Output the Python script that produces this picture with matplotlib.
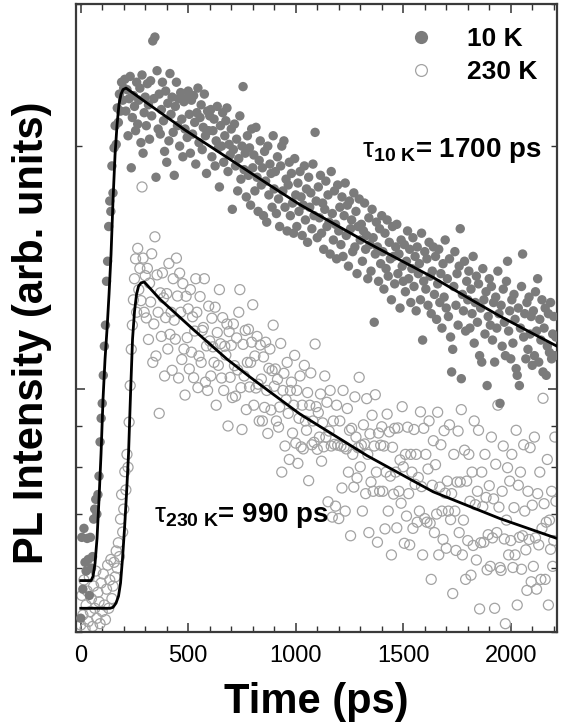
import matplotlib
matplotlib.use("Agg")
import matplotlib.pyplot as plt
from matplotlib.ticker import LogLocator, NullFormatter, MultipleLocator
from matplotlib.lines import Line2D

# ---------------- data ----------------
time_ps = [
    0, 5, 10, 15, 20, 25, 30, 35, 40, 45, 50, 55, 60, 65, 70, 75, 80, 85, 90, 95,
    100, 105, 110, 115, 120, 125, 130, 135, 140, 145, 150, 155, 160, 165, 170, 175, 180, 185, 190, 195,
    200, 205, 210, 215, 220, 225, 230, 235, 240, 245, 250, 255, 260, 265, 270, 275, 280, 285, 290, 295,
    300, 305, 310, 315, 320, 325, 330, 335, 340, 345, 350, 355, 360, 365, 370, 375, 380, 385, 390, 395,
    400, 405, 410, 415, 420, 425, 430, 435, 440, 445, 450, 455, 460, 465, 470, 475, 480, 485, 490, 495,
    500, 505, 510, 515, 520, 525, 530, 535, 540, 545, 550, 555, 560, 565, 570, 575, 580, 585, 590, 595,
    600, 605, 610, 615, 620, 625, 630, 635, 640, 645, 650, 655, 660, 665, 670, 675, 680, 685, 690, 695,
    700, 705, 710, 715, 720, 725, 730, 735, 740, 745, 750, 755, 760, 765, 770, 775, 780, 785, 790, 795,
    800, 805, 810, 815, 820, 825, 830, 835, 840, 845, 850, 855, 860, 865, 870, 875, 880, 885, 890, 895,
    900, 905, 910, 915, 920, 925, 930, 935, 940, 945, 950, 955, 960, 965, 970, 975, 980, 985, 990, 995,
    1000, 1005, 1010, 1015, 1020, 1025, 1030, 1035, 1040, 1045, 1050, 1055, 1060, 1065, 1070, 1075, 1080, 1085, 1090, 1095,
    1100, 1105, 1110, 1115, 1120, 1125, 1130, 1135, 1140, 1145, 1150, 1155, 1160, 1165, 1170, 1175, 1180, 1185, 1190, 1195,
    1200, 1205, 1210, 1215, 1220, 1225, 1230, 1235, 1240, 1245, 1250, 1255, 1260, 1265, 1270, 1275, 1280, 1285, 1290, 1295,
    1300, 1305, 1310, 1315, 1320, 1325, 1330, 1335, 1340, 1345, 1350, 1355, 1360, 1365, 1370, 1375, 1380, 1385, 1390, 1395,
    1400, 1405, 1410, 1415, 1420, 1425, 1430, 1435, 1440, 1445, 1450, 1455, 1460, 1465, 1470, 1475, 1480, 1485, 1490, 1495,
    1500, 1505, 1510, 1515, 1520, 1525, 1530, 1535, 1540, 1545, 1550, 1555, 1560, 1565, 1570, 1575, 1580, 1585, 1590, 1595,
    1600, 1605, 1610, 1615, 1620, 1625, 1630, 1635, 1640, 1645, 1650, 1655, 1660, 1665, 1670, 1675, 1680, 1685, 1690, 1695,
    1700, 1705, 1710, 1715, 1720, 1725, 1730, 1735, 1740, 1745, 1750, 1755, 1760, 1765, 1770, 1775, 1780, 1785, 1790, 1795,
    1800, 1805, 1810, 1815, 1820, 1825, 1830, 1835, 1840, 1845, 1850, 1855, 1860, 1865, 1870, 1875, 1880, 1885, 1890, 1895,
    1900, 1905, 1910, 1915, 1920, 1925, 1930, 1935, 1940, 1945, 1950, 1955, 1960, 1965, 1970, 1975, 1980, 1985, 1990, 1995,
    2000, 2005, 2010, 2015, 2020, 2025, 2030, 2035, 2040, 2045, 2050, 2055, 2060, 2065, 2070, 2075, 2080, 2085, 2090, 2095,
    2100, 2105, 2110, 2115, 2120, 2125, 2130, 2135, 2140, 2145, 2150, 2155, 2160, 2165, 2170, 2175, 2180, 2185, 2190, 2195,
    2200, 2205, 2210,
]

pl_10K = [
    5.20, 6.55, 5.65, 6.72, 6.10, 5.95, 6.53, 6.15, 5.55, 6.55, 6.00, 6.20, 6.9, 7.1, 7.3, 7.0, 7.4, 7.8, 8.6, 9.2,
    9.6, 10.4, 11.3, 12.0, 13.6, 14.4, 15.9, 17.1, 16.6, 18.9, 17.5, 19.9, 21.2, 20.1, 22.3, 21.4, 23.2, 22.1, 24.0, 22.8,
    23.6, 24.2, 22.1, 23.5, 20.6, 22.9, 24.4, 18.8, 21.7, 23.1, 22.4, 20.9, 24.0, 21.3, 22.8, 23.6, 20.2, 24.5, 19.6, 22.0,
    23.0, 21.2, 23.9, 22.5, 20.4, 24.1, 21.8, 27.0, 22.9, 27.3, 18.3, 24.8, 21.0, 23.2, 20.7, 22.2, 24.0, 21.5, 19.7, 23.4,
    19.1, 22.6, 20.3, 24.6, 21.9, 23.0, 20.8, 18.4, 22.4, 24.0, 21.2, 22.9, 20.0, 23.3, 21.6, 19.4, 22.7, 21.0, 22.9, 20.5,
    23.4, 21.9, 19.6, 22.8, 20.7, 23.1, 21.4, 19.0, 22.0, 23.6, 20.2, 21.7, 22.5, 19.8, 21.1, 23.2, 20.6, 18.5, 22.1, 20.9,
    21.8, 22.2, 19.4, 20.9, 21.6, 18.9, 20.3, 22.4, 19.9, 17.8, 21.2, 20.0, 22.0, 19.1, 20.6, 21.5, 22.3, 18.6, 20.1, 19.5,
    21.0, 16.7, 19.8, 21.3, 18.9, 20.4, 17.6, 19.3, 21.8, 18.2, 20.0, 23.7, 18.7, 19.6, 17.3, 20.6, 18.4, 19.9, 16.9, 21.0,
    18.8, 19.5, 17.6, 21.1, 18.3, 16.6, 19.2, 20.3, 17.9, 18.8, 16.4, 19.7, 18.1, 16.1, 20.0, 17.4, 19.0, 18.5, 16.8, 20.6,
    17.7, 18.6, 16.5, 19.4, 17.2, 15.9, 18.9, 20.0, 17.6, 20.3, 16.8, 18.2, 15.7, 17.9, 19.1, 16.4, 18.5, 17.0, 15.6, 19.3,
    17.4, 15.9, 18.0, 16.6, 18.6, 17.3, 15.5, 16.9, 18.9, 16.2, 17.7, 15.2, 18.3, 16.8, 17.5, 15.8, 19.0, 16.4, 20.8, 17.1,
    15.4, 17.8, 16.3, 18.4, 15.6, 17.0, 14.9, 16.7, 18.1, 15.9, 17.4, 16.1, 14.7, 18.6, 16.5, 15.3, 17.6, 16.0, 14.5, 17.9,
    15.7, 16.8, 15.1, 17.3, 14.6, 16.4, 18.0, 15.5, 16.9, 14.2, 17.1, 15.8, 16.2, 14.8, 17.5, 15.0, 16.6, 13.9, 15.9, 17.2,
    15.3, 16.0, 14.4, 15.7, 17.0, 14.9, 15.5, 13.7, 16.3, 15.1, 14.0, 16.7, 15.4, 12.1, 14.7, 16.1, 15.0, 13.6, 15.8, 14.3,
    16.4, 14.8, 13.3, 15.6, 14.1, 16.2, 13.8, 15.2, 14.5, 12.9, 15.9, 14.6, 13.5, 15.0, 16.0, 13.9, 14.7, 12.6, 15.3, 14.2,
    13.6, 15.1, 13.2, 14.4, 15.7, 13.7, 14.9, 12.8, 14.1, 15.4, 13.4, 14.6, 12.5, 15.0, 13.9, 14.3, 12.9, 15.6, 11.5, 13.6,
    14.8, 13.3, 14.5, 12.7, 15.2, 13.8, 12.4, 14.0, 15.0, 13.1, 14.6, 12.2, 13.5, 14.9, 12.8, 13.9, 11.9, 14.3, 13.0, 15.3,
    12.6, 13.7, 12.3, 14.5, 11.6, 10.5, 11.2, 13.4, 14.8, 12.7, 13.9, 12.0, 14.2, 15.8, 10.3, 13.1, 12.5, 14.4, 11.8, 13.6,
    12.9, 14.0, 11.9, 13.3, 12.4, 14.6, 11.4, 12.8, 13.8, 12.1, 13.5, 11.0, 12.6, 10.8, 14.1, 12.9, 11.7, 13.2, 10.1, 12.3,
    13.7, 12.0, 13.4, 11.5, 12.8, 10.8, 13.0, 11.9, 14.0, 12.4, 9.6, 12.7, 11.3, 13.3, 12.1, 11.0, 13.6, 14.4, 11.8, 12.5,
    10.9, 12.9, 11.4, 13.1, 12.2, 10.6, 10.4, 12.6, 10.1, 11.9, 13.4, 14.7, 11.6, 12.4, 10.9, 12.8, 11.2, 13.0, 11.7, 12.3,
    10.7, 12.5, 11.0, 13.2, 11.8, 13.7, 10.8, 12.2, 11.5, 12.9, 10.5, 11.9, 12.6, 10.4, 11.3, 12.4, 11.1, 12.8, 10.9, 11.7,
    12.3, 11.0, 11.6,
]

pl_230K = [
    5.10, 5.55, 5.25, 5.80, 5.05, 5.40, 5.62, 5.15, 5.85, 5.30, 5.50, 5.08, 5.70, 5.35, 5.95, 5.20, 5.60, 5.45, 5.12, 5.75,
    5.30, 5.90, 5.40, 5.18, 5.65, 6.05, 5.35, 5.80, 6.15, 5.50, 5.70, 6.10, 5.85, 6.30, 6.00, 6.45, 6.20, 6.90, 7.40, 6.65,
    7.10, 7.90, 7.50, 8.30, 8.00, 9.10, 10.10, 11.20, 12.00, 12.90, 13.70, 14.50, 12.45, 14.94, 13.28, 14.11, 12.87, 17.80, 14.53, 12.45,
    13.82, 12.25, 14.11, 11.52, 13.53, 12.82, 14.71, 10.79, 12.04, 15.44, 10.99, 13.85, 12.45, 9.33, 13.16, 11.62, 13.93, 12.97, 10.38, 12.26,
    13.13, 11.21, 14.31, 11.69, 12.45, 10.55, 13.70, 12.17, 11.53, 14.53, 13.04, 10.32, 13.92, 12.45, 10.88, 13.51, 11.21, 9.83, 13.03, 11.58,
    12.57, 10.59, 13.28, 11.11, 12.29, 10.33, 11.80, 13.70, 12.45, 10.04, 10.99, 13.02, 10.79, 11.82, 11.92, 13.70, 10.20, 11.31, 9.96, 12.67,
    11.47, 10.38, 12.24, 11.28, 10.79, 12.63, 9.55, 11.75, 10.70, 13.28, 11.38, 10.32, 12.26, 9.96, 11.30, 11.02, 12.04, 9.00, 11.78, 10.34,
    11.33, 9.76, 12.04, 10.69, 9.80, 11.57, 10.56, 12.45, 13.28, 10.04, 8.91, 11.36, 10.38, 11.82, 9.43, 10.79, 11.86, 10.06, 10.79, 11.43,
    12.72, 9.55, 10.99, 10.03, 11.62, 10.14, 9.13, 11.34, 10.29, 9.13, 10.96, 9.49, 11.43, 9.96, 8.81, 10.61, 11.21, 9.42, 10.54, 12.00,
    10.08, 10.59, 9.13, 10.28, 8.97, 9.50, 11.39, 7.89, 9.96, 10.46, 8.50, 9.70, 10.79, 9.33, 8.18, 9.96, 10.20, 8.82, 9.55, 11.01,
    8.57, 9.96, 8.09, 9.20, 10.38, 8.48, 9.55, 8.43, 10.70, 9.13, 8.89, 9.90, 7.70, 9.55, 10.47, 8.53, 9.13, 8.59, 11.37, 9.51,
    8.42, 9.35, 8.72, 9.86, 8.14, 9.08, 8.48, 10.38, 8.72, 9.63, 7.25, 8.87, 9.96, 8.50, 6.94, 9.13, 8.54, 7.16, 9.55, 8.52,
    6.91, 9.13, 8.50, 7.54, 9.96, 8.48, 7.06, 8.43, 9.46, 7.89, 8.89, 6.58, 8.94, 8.30, 7.56, 9.78, 8.72, 7.76, 8.46, 10.34,
    8.01, 8.52, 7.06, 9.03, 8.55, 7.42, 9.73, 8.30, 6.64, 8.80, 7.67, 9.28, 7.47, 8.50, 9.84, 7.89, 6.46, 8.82, 7.47, 8.52,
    8.98, 7.47, 8.50, 6.71, 7.89, 9.31, 7.06, 8.85, 7.80, 6.23, 8.47, 7.41, 8.94, 7.89, 6.73, 8.95, 7.47, 8.17, 7.22, 9.51,
    8.01, 6.44, 8.30, 6.96, 8.97, 7.42, 6.41, 8.30, 7.89, 6.72, 8.91, 7.62, 8.30, 6.84, 7.77, 7.06, 9.37, 7.57, 6.23, 8.94,
    6.91, 8.30, 6.84, 7.96, 9.13, 6.82, 5.81, 7.60, 8.63, 6.64, 8.06, 7.00, 9.36, 6.23, 7.56, 8.53, 7.06, 6.51, 8.88, 7.43,
    6.35, 7.69, 7.06, 9.03, 6.89, 7.42, 5.58, 8.30, 7.06, 6.31, 7.67, 8.87, 6.64, 7.67, 9.43, 6.23, 6.88, 8.40, 5.81, 7.69,
    6.49, 8.30, 7.26, 5.88, 7.89, 6.40, 9.13, 7.19, 6.14, 7.47, 8.89, 5.34, 6.45, 7.89, 7.15, 6.46, 8.30, 7.34, 5.97, 6.60,
    7.59, 6.03, 8.72, 6.54, 7.31, 5.35, 8.07, 6.64, 9.55, 7.14, 6.01, 5.96, 7.47, 8.50, 6.52, 5.12, 6.88, 7.99, 6.23, 7.69,
    6.49, 8.30, 6.01, 7.13, 6.23, 8.89, 5.40, 7.60, 6.55, 7.89, 5.98, 6.58, 8.53, 7.06, 6.32, 5.63, 7.47, 6.51, 8.46, 5.77,
    7.18, 6.03, 8.72, 6.54, 5.65, 7.42, 6.41, 7.89, 5.81, 6.72, 9.74, 7.21, 5.81, 6.84, 8.18, 5.40, 6.88, 6.33, 7.47, 6.03,
    6.49, 8.72, 7.26,
]

# fitted curves
fit_10K_t = [0, 47.9, 57.2, 66.5, 75.8, 85.1, 94.4, 103.7, 113.0, 122.3, 131.6, 140.9, 150.2,
             159.5, 168.8, 178.1, 187.4, 196.7, 210.7, 322, 485, 600, 741, 880, 1020, 1175,
             1332, 1485, 1639, 1795, 1950, 2080, 2215]
fit_10K = [5.79, 5.79, 5.86, 6.08, 6.53, 7.31, 8.31, 9.72, 10.89, 11.86, 13.10, 14.68, 17.16,
           19.50, 21.24, 22.55, 23.20, 23.50, 23.60, 22.48, 20.94, 20.0, 18.90, 17.88, 16.92, 16.04,
           15.19, 14.45, 13.75, 13.0, 12.31, 11.80, 11.30]

fit_230K_t = [0, 136.3, 150.2, 164.2, 175.8, 185.1, 194.4, 203.7, 213.0, 222.3, 231.6, 240.9,
              250.2, 259.5, 268.8, 280.5, 295.8, 368.8, 522.3, 680.4, 787, 880, 1020, 1331.6,
              1638.6, 1950, 2215]
fit_230K = [5.35, 5.35, 5.365, 5.43, 5.54, 5.75, 6.17, 6.72, 7.42, 8.31, 9.86, 11.53,
            12.49, 13.10, 13.41, 13.54, 13.57, 12.92, 11.86, 10.89, 10.35, 9.92, 9.31, 8.27,
            7.46, 6.91, 6.53]

series_labels = ["10 K", "230 K"]
tau_labels = [r"$\mathrm{\tau}_{\mathbf{10\ K}}$= 1700 ps", r"$\mathrm{\tau}_{\mathbf{230\ K}}$= 990 ps"]
tau_pos = [(1310, 19.4), (343, 6.85)]

# ---------------- figure ----------------
plt.rcParams["font.family"] = ["Liberation Sans", "DejaVu Sans"]
plt.rcParams["mathtext.fontset"] = "custom"
plt.rcParams["mathtext.rm"] = "Liberation Sans"
plt.rcParams["mathtext.it"] = "Liberation Sans:italic"
plt.rcParams["mathtext.bf"] = "Liberation Sans:bold"

fig = plt.figure(figsize=(5.62, 7.22), dpi=100)
ax = fig.add_axes([76 / 562, 90 / 722, 481 / 562, 628 / 722])

col10 = "#7b7b7b"
col230 = "#a3a3a3"

ax.scatter(time_ps, pl_230K, s=52, facecolors="none", edgecolors=col230,
           linewidths=0.9, zorder=2)
ax.scatter(time_ps, pl_10K, s=46, c=col10, edgecolors="none", zorder=3)
ax.plot(fit_10K_t, fit_10K, color="black", lw=2.0, zorder=4, solid_joinstyle="round")
ax.plot(fit_230K_t, fit_230K, color="black", lw=2.0, zorder=4, solid_joinstyle="round")

ax.set_yscale("log")
ax.set_ylim(5, 30)
ax.set_xlim(-22, 2215)

ax.xaxis.set_major_locator(MultipleLocator(500))
ax.xaxis.set_minor_locator(MultipleLocator(100))
ax.yaxis.set_major_locator(LogLocator(base=10))
ax.yaxis.set_minor_locator(LogLocator(base=10, subs=range(2, 10)))
ax.yaxis.set_major_formatter(NullFormatter())
ax.yaxis.set_minor_formatter(NullFormatter())

ax.tick_params(which="both", direction="in", top=True, right=True, color="#333333")
ax.tick_params(which="major", length=6.5, width=1.1)
ax.tick_params(which="minor", length=4, width=1.0)
ax.tick_params(axis="x", which="major", labelsize=17, pad=9)

for sp in ax.spines.values():
    sp.set_linewidth(1.6)
    sp.set_color("#3a3a3a")

ax.set_xlabel("Time (ps)", fontsize=30, fontweight="bold", labelpad=11)
ax.set_ylabel("PL Intensity (arb. units)", fontsize=30, fontweight="bold")
ax.yaxis.set_label_coords(-0.050, 0.476)

h10 = Line2D([], [], marker="o", ls="none", markersize=9.5, markerfacecolor=col10,
             markeredgecolor="none")
h230 = Line2D([], [], marker="o", ls="none", markersize=8.5, markerfacecolor="none",
              markeredgecolor=col230, markeredgewidth=0.9)
ax.legend([h10, h230], series_labels, loc="upper left", bbox_to_anchor=(0.690, 0.963),
          frameon=False, prop={"weight": "bold", "size": 19}, handlelength=1.0,
          handletextpad=1.25, labelspacing=0.35, borderpad=0, borderaxespad=0)

for lbl, (tx, ty) in zip(tau_labels, tau_pos):
    ax.text(tx, ty, lbl, fontsize=20, fontweight="bold", ha="left", va="baseline", zorder=5)

fig.savefig("out.png", dpi=100)
